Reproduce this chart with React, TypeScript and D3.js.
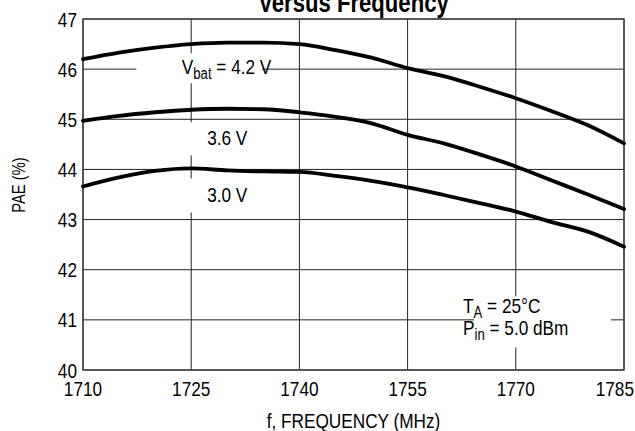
// PAE vs frequency, three battery voltages
import * as d3 from 'd3'
import type { ReactNode } from 'react'

const FONT = "'Liberation Sans', Arial, sans-serif"
const NARROW = 0.82 // condensed look, like Helvetica Condensed

const freqs = [1710, 1715, 1720, 1725, 1730, 1735, 1740, 1745, 1750, 1755, 1760, 1765, 1770, 1775, 1780, 1785]
const pae42 = [46.2, 46.33, 46.43, 46.5, 46.53, 46.53, 46.5, 46.38, 46.23, 46.02, 45.86, 45.65, 45.42, 45.16, 44.88, 44.52]
const pae36 = [44.97, 45.07, 45.14, 45.19, 45.21, 45.2, 45.14, 45.05, 44.92, 44.69, 44.52, 44.3, 44.06, 43.78, 43.5, 43.21]
const pae30 = [43.66, 43.84, 43.97, 44.02, 43.98, 43.96, 43.95, 43.87, 43.77, 43.64, 43.49, 43.33, 43.16, 42.95, 42.76, 42.46]

const xTicks = [1710, 1725, 1740, 1755, 1770, 1785]
const yTicks = [40, 41, 42, 43, 44, 45, 46, 47]

const W = 635
const H = 431
const margin = { top: 19, right: 11, bottom: 61, left: 83 }

function NText({ x, y, size = 21, anchor = 'start', rotate = 0, dy, bold, children }:
  { x: number, y: number, size?: number, anchor?: string, rotate?: number, dy?: string, bold?: boolean, children: ReactNode }) {
  return (
    <g transform={`translate(${x},${y}) rotate(${rotate}) scale(${NARROW},1)`}>
      <text textAnchor={anchor as any} fontSize={size} dy={dy} fontWeight={bold ? 'bold' : undefined}>{children}</text>
    </g>
  )
}

export default function App() {
  const x = d3.scaleLinear().domain([1710, 1785]).range([margin.left, W - margin.right])
  const y = d3.scaleLinear().domain([40, 47]).range([H - margin.bottom, margin.top])

  const line = d3.line<number>()
    .x((d, i) => x(freqs[i]))
    .y(d => y(d))
    .curve(d3.curveMonotoneX)

  const series = [pae42, pae36, pae30]

  // white boxes that mask the grid behind the labels
  const masks = [
    { x0: 1717.4, x1: 1734.8, y0: 46.32, y1: 45.72 },
    { x0: 1724.0, x1: 1736.2, y0: 44.94, y1: 44.28 },
    { x0: 1724.0, x1: 1736.2, y0: 43.82, y1: 43.14 },
    { x0: 1764.2, x1: 1783.2, y0: 41.47, y1: 40.45 },
  ]

  const cx = (margin.left + W - margin.right) / 2

  return (
    <div style={{ position: 'absolute', left: 0, top: 0 }}>
      <svg width={W} height={H} style={{ display: 'block', background: '#fff' }} fontFamily={FONT}>
        <NText x={cx} y={11.5} anchor="middle" size={27} bold>Versus Frequency</NText>

        {/* grid */}
        {yTicks.map(t => (
          <line key={'gy' + t} x1={x(1710)} x2={x(1785)} y1={y(t)} y2={y(t)} stroke="#222" strokeWidth={1} />
        ))}
        {xTicks.map(t => (
          <line key={'gx' + t} x1={x(t)} x2={x(t)} y1={y(40)} y2={y(47)} stroke="#222" strokeWidth={1} />
        ))}

        {masks.map((m, i) => (
          <rect key={'m' + i} x={x(m.x0)} y={y(m.y0)} width={x(m.x1) - x(m.x0)} height={y(m.y1) - y(m.y0)} fill="#fff" />
        ))}

        <rect x={x(1710)} y={y(47)} width={x(1785) - x(1710)} height={y(40) - y(47)}
          fill="none" stroke="#444" strokeWidth={1.5} />

        {series.map((s, i) => (
          <path key={'s' + i} d={line(s) || ''} fill="none" stroke="#000" strokeWidth={3.8} strokeLinecap="round" />
        ))}

        {/* tick labels */}
        {yTicks.map(t => (
          <NText key={'ty' + t} x={x(1710) - 6} y={y(t)} dy="0.36em" anchor="end">{t}</NText>
        ))}
        {xTicks.map((t, i) => (
          i === xTicks.length - 1
            ? <NText key={'tx' + t} x={W - 1} y={396} anchor="end">{t}</NText>
            : <NText key={'tx' + t} x={x(t)} y={396} anchor="middle">{t}</NText>
        ))}

        <NText x={cx} y={428} anchor="middle" size={21}>f, FREQUENCY (MHz)</NText>
        <NText x={25} y={185} rotate={-90} anchor="middle" size={18}>PAE (%)</NText>

        {/* curve labels */}
        <NText x={x(1723.7)} y={74}>
          V<tspan fontSize={16} dy={5}>bat</tspan><tspan dy={-5}> = 4.2 V</tspan>
        </NText>
        <NText x={x(1730)} y={145} anchor="middle">3.6 V</NText>
        <NText x={x(1730)} y={202} anchor="middle">3.0 V</NText>

        <NText x={463} y={313}>
          T<tspan fontSize={16} dy={5}>A</tspan><tspan dy={-5}> = 25°C</tspan>
        </NText>
        <NText x={463} y={335}>
          P<tspan fontSize={16} dy={5}>in</tspan><tspan dy={-5}> = 5.0 dBm</tspan>
        </NText>
      </svg>
    </div>
  )
}
